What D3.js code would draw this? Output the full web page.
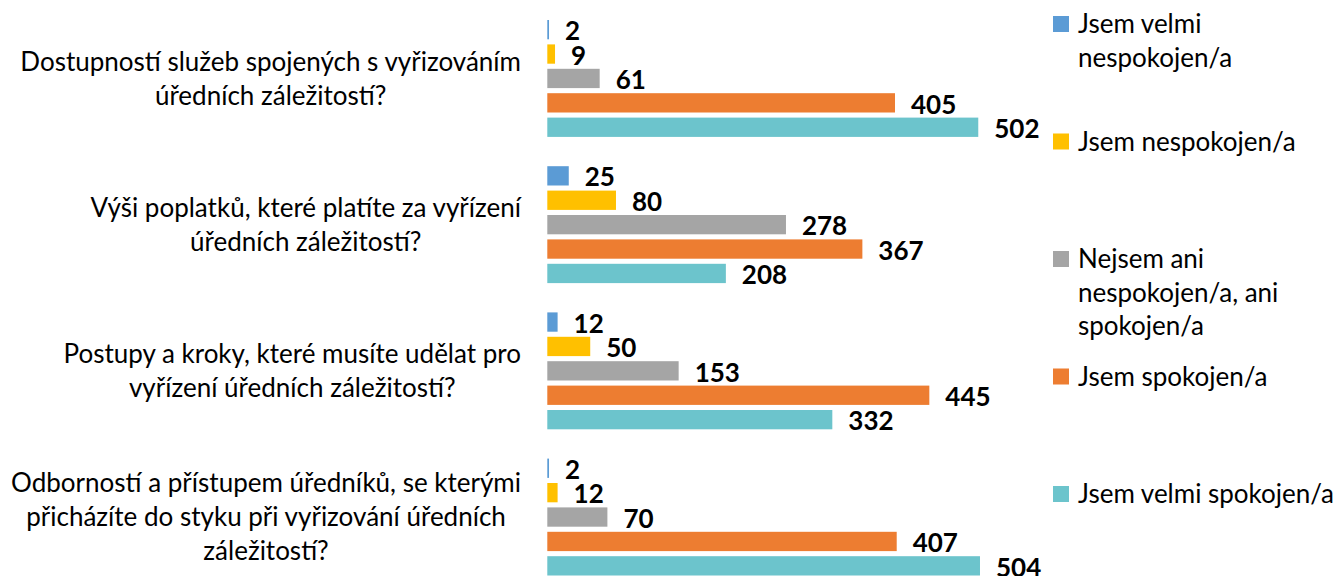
<!DOCTYPE html>
<html>
<head>
<meta charset="utf-8">
<script src="https://cdn.jsdelivr.net/npm/d3@7"></script>
<style>
  body { margin: 0; background: #fff; }
  svg { display: block; font-family: Lato, "Open Sans", sans-serif; }
</style>
</head>
<body>
<svg id="chart" width="1336" height="576"></svg>
<script>
// questions (each entry is the wrapped lines of the category label)
var categories = [
    ["Dostupností služeb spojených s vyřizováním", "úředních záležitostí?"],
    ["Výši poplatků, které platíte za vyřízení", "úředních záležitostí?"],
    ["Postupy a kroky, které musíte udělat pro", "vyřízení úředních záležitostí?"],
    ["Odborností a přístupem úředníků, se kterými", "přicházíte do styku při vyřizování úředních", "záležitostí?"]
];

var seriesNames = [
    "Jsem velmi nespokojen/a",
    "Jsem nespokojen/a",
    "Nejsem ani nespokojen/a, ani spokojen/a",
    "Jsem spokojen/a",
    "Jsem velmi spokojen/a"
];

var legendLines = [
    ["Jsem velmi", "nespokojen/a"],
    ["Jsem nespokojen/a"],
    ["Nejsem ani", "nespokojen/a, ani", "spokojen/a"],
    ["Jsem spokojen/a"],
    ["Jsem velmi spokojen/a"]
];

// one array per series, in the order of categories
var velmiNespokojen = [2, 25, 12, 2];
var nespokojen = [9, 80, 50, 12];
var ani = [61, 278, 153, 70];
var spokojen = [405, 367, 445, 407];
var velmiSpokojen = [502, 208, 332, 504];

var seriesValues = [velmiNespokojen, nespokojen, ani, spokojen, velmiSpokojen];
var colors = ["#5b9bd5", "#ffc000", "#a5a5a5", "#ed7d31", "#6cc4cc"];

var svg = d3.select("#chart");
var lineH = 34;

var y = d3.scaleBand()
    .domain(d3.range(categories.length))
    .range([5.35, 590.15])
    .paddingInner(0.1655)
    .paddingOuter(0.08275);

var ySub = d3.scaleBand()
    .domain(d3.range(seriesNames.length))
    .range([0, y.bandwidth()])
    .paddingInner(0.209)
    .paddingOuter(0.1045);

var x = d3.scaleLinear()
    .domain([0, 600])
    .range([547.3, 1062.4]);

var rows = [];
categories.forEach(function (c, ci) {
    seriesValues.forEach(function (vals, si) {
        rows.push({ ci: ci, si: si, value: vals[ci] });
    });
});

var groups = svg.append("g");

groups.selectAll("rect")
    .data(rows)
    .join("rect")
    .attr("x", x(0))
    .attr("y", function (d) { return y(d.ci) + ySub(d.si); })
    .attr("width", function (d) { return x(d.value) - x(0); })
    .attr("height", ySub.bandwidth())
    .attr("fill", function (d) { return colors[d.si]; });

groups.selectAll("text.val")
    .data(rows)
    .join("text")
    .attr("class", "val")
    .attr("x", function (d) { return x(d.value) + 16; })
    .attr("y", function (d) { return y(d.ci) + ySub(d.si) + ySub.bandwidth() + 1; })
    .attr("font-size", 26)
    .attr("font-weight", "bold")
    .attr("fill", "#000")
    .text(function (d) { return d.value; });

// category labels: lines centred on each other, block right-aligned
var labelRight = 521;
categories.forEach(function (lines, ci) {
    var g = svg.append("g");
    var cy = y(ci) + y.bandwidth() / 2;
    var texts = g.selectAll("text")
        .data(lines)
        .join("text")
        .attr("font-size", 26)
        .attr("fill", "#000")
        .attr("text-anchor", "middle")
        .attr("y", function (d, i) { return cy + (i - (lines.length - 1) / 2) * lineH; })
        .attr("dy", "0.35em")
        .text(function (d) { return d; });
    var maxW = d3.max(texts.nodes(), function (n) { return n.getComputedTextLength(); });
    texts.attr("x", labelRight - maxW / 2);
});

// legend
var legend = svg.append("g").attr("transform", "translate(1053,0)");
legendLines.forEach(function (lines, i) {
    var cy = 24 + i * 117.5;
    legend.append("rect")
        .attr("x", 0)
        .attr("y", cy - 8)
        .attr("width", 16)
        .attr("height", 16)
        .attr("fill", colors[i]);
    legend.selectAll("text.l" + i)
        .data(lines)
        .join("text")
        .attr("class", "l" + i)
        .attr("x", 25)
        .attr("y", function (d, j) { return cy + 9 + j * 33.5; })
        .attr("font-size", 26)
        .attr("fill", "#000")
        .text(function (d) { return d; });
});
</script>
</body>
</html>
